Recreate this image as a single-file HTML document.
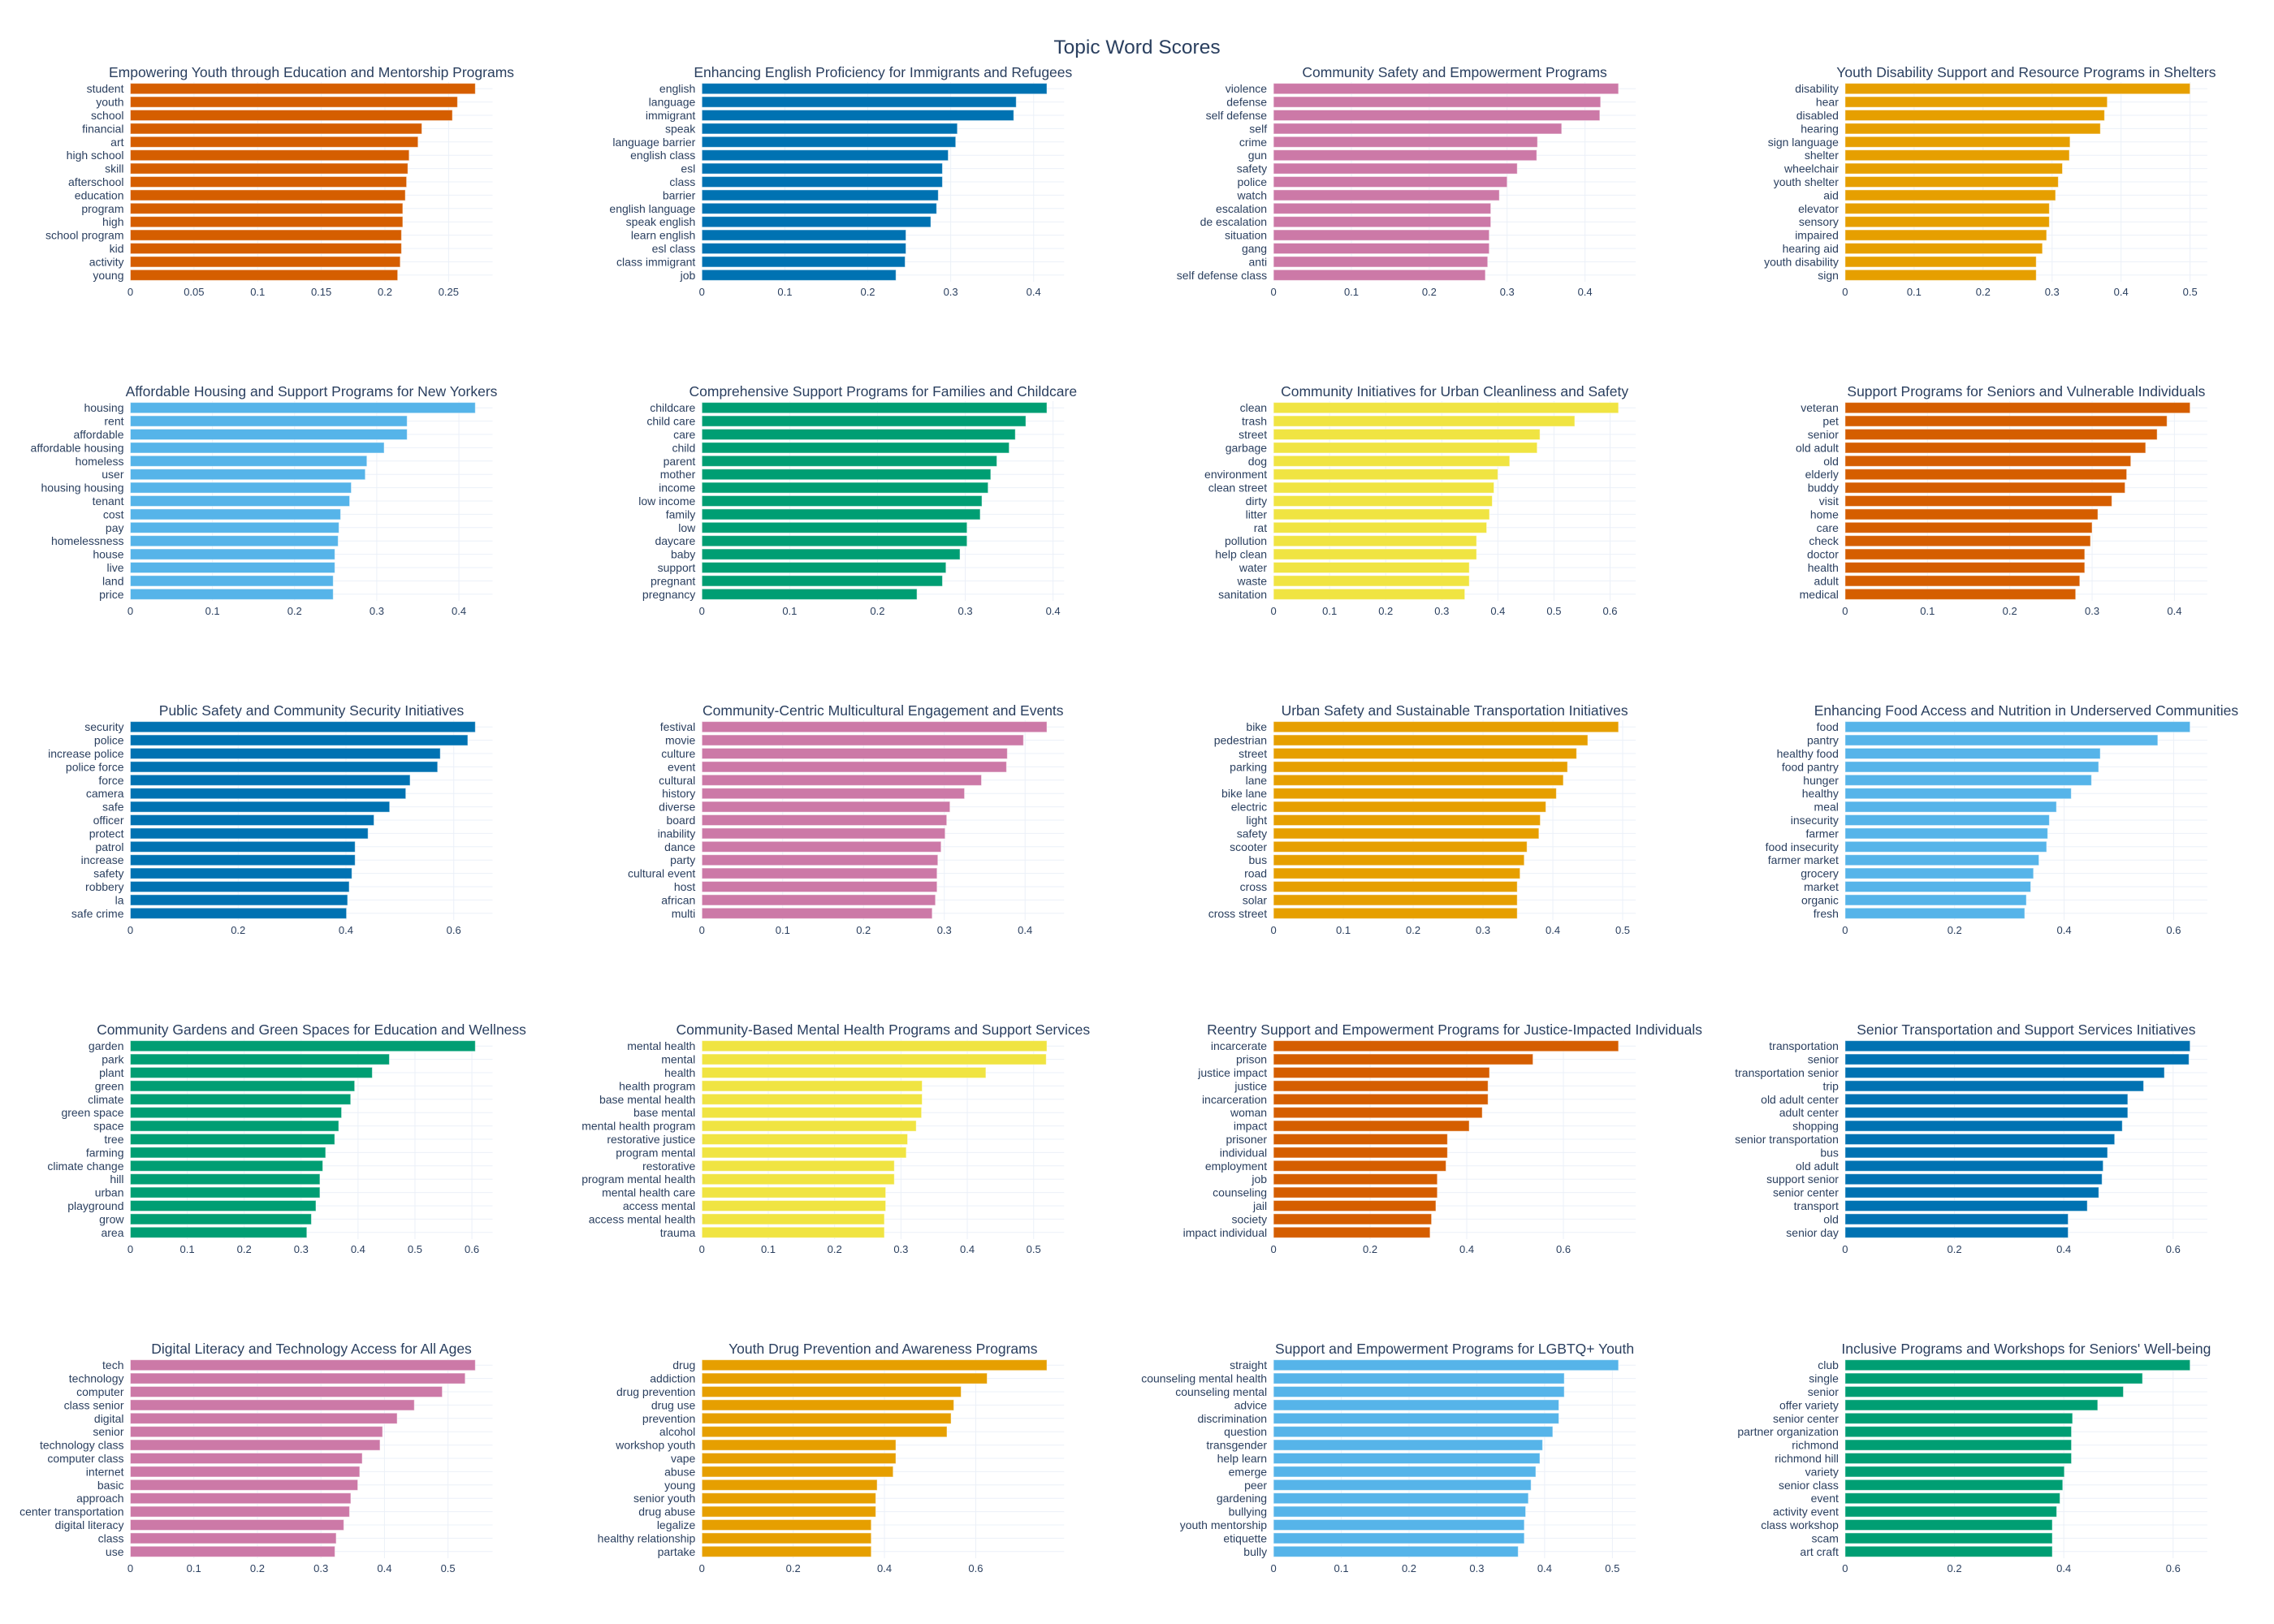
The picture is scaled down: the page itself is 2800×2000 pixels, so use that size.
<!DOCTYPE html>
<html><head><meta charset="utf-8">
<style>
html,body{margin:0;padding:0;background:#fff;}
svg{display:block;font-family:"Liberation Sans",sans-serif;}
</style></head>
<body>
<svg id="chart" width="2800" height="2000" viewBox="0 0 2800 2000" xmlns="http://www.w3.org/2000/svg">
<rect width="2800" height="2000" fill="#fff"/>
<text x="1400" y="66" text-anchor="middle" font-size="24.5" fill="#2a3f5f">Topic Word Scores</text>
</svg>
<script>
const titles = [
"Empowering Youth through Education and Mentorship Programs",
"Enhancing English Proficiency for Immigrants and Refugees",
"Community Safety and Empowerment Programs",
"Youth Disability Support and Resource Programs in Shelters",
"Affordable Housing and Support Programs for New Yorkers",
"Comprehensive Support Programs for Families and Childcare",
"Community Initiatives for Urban Cleanliness and Safety",
"Support Programs for Seniors and Vulnerable Individuals",
"Public Safety and Community Security Initiatives",
"Community-Centric Multicultural Engagement and Events",
"Urban Safety and Sustainable Transportation Initiatives",
"Enhancing Food Access and Nutrition in Underserved Communities",
"Community Gardens and Green Spaces for Education and Wellness",
"Community-Based Mental Health Programs and Support Services",
"Reentry Support and Empowerment Programs for Justice-Impacted Individuals",
"Senior Transportation and Support Services Initiatives",
"Digital Literacy and Technology Access for All Ages",
"Youth Drug Prevention and Awareness Programs",
"Support and Empowerment Programs for LGBTQ+ Youth",
"Inclusive Programs and Workshops for Seniors' Well-being"
];
const words = [
["student","youth","school","financial","art","high school","skill","afterschool","education","program","high","school program","kid","activity","young"],
["english","language","immigrant","speak","language barrier","english class","esl","class","barrier","english language","speak english","learn english","esl class","class immigrant","job"],
["violence","defense","self defense","self","crime","gun","safety","police","watch","escalation","de escalation","situation","gang","anti","self defense class"],
["disability","hear","disabled","hearing","sign language","shelter","wheelchair","youth shelter","aid","elevator","sensory","impaired","hearing aid","youth disability","sign"],
["housing","rent","affordable","affordable housing","homeless","user","housing housing","tenant","cost","pay","homelessness","house","live","land","price"],
["childcare","child care","care","child","parent","mother","income","low income","family","low","daycare","baby","support","pregnant","pregnancy"],
["clean","trash","street","garbage","dog","environment","clean street","dirty","litter","rat","pollution","help clean","water","waste","sanitation"],
["veteran","pet","senior","old adult","old","elderly","buddy","visit","home","care","check","doctor","health","adult","medical"],
["security","police","increase police","police force","force","camera","safe","officer","protect","patrol","increase","safety","robbery","la","safe crime"],
["festival","movie","culture","event","cultural","history","diverse","board","inability","dance","party","cultural event","host","african","multi"],
["bike","pedestrian","street","parking","lane","bike lane","electric","light","safety","scooter","bus","road","cross","solar","cross street"],
["food","pantry","healthy food","food pantry","hunger","healthy","meal","insecurity","farmer","food insecurity","farmer market","grocery","market","organic","fresh"],
["garden","park","plant","green","climate","green space","space","tree","farming","climate change","hill","urban","playground","grow","area"],
["mental health","mental","health","health program","base mental health","base mental","mental health program","restorative justice","program mental","restorative","program mental health","mental health care","access mental","access mental health","trauma"],
["incarcerate","prison","justice impact","justice","incarceration","woman","impact","prisoner","individual","employment","job","counseling","jail","society","impact individual"],
["transportation","senior","transportation senior","trip","old adult center","adult center","shopping","senior transportation","bus","old adult","support senior","senior center","transport","old","senior day"],
["tech","technology","computer","class senior","digital","senior","technology class","computer class","internet","basic","approach","center transportation","digital literacy","class","use"],
["drug","addiction","drug prevention","drug use","prevention","alcohol","workshop youth","vape","abuse","young","senior youth","drug abuse","legalize","healthy relationship","partake"],
["straight","counseling mental health","counseling mental","advice","discrimination","question","transgender","help learn","emerge","peer","gardening","bullying","youth mentorship","etiquette","bully"],
["club","single","senior","offer variety","senior center","partner organization","richmond","richmond hill","variety","senior class","event","activity event","class workshop","scam","art craft"]
];
const scores = [
[0.271,0.257,0.253,0.229,0.226,0.219,0.218,0.217,0.216,0.214,0.214,0.213,0.213,0.212,0.210],
[0.416,0.379,0.376,0.308,0.306,0.297,0.290,0.290,0.285,0.283,0.276,0.246,0.246,0.245,0.234],
[0.443,0.420,0.419,0.370,0.339,0.338,0.313,0.300,0.290,0.279,0.279,0.277,0.277,0.275,0.272],
[0.500,0.380,0.376,0.370,0.326,0.325,0.315,0.309,0.305,0.296,0.296,0.292,0.286,0.277,0.277],
[0.420,0.337,0.337,0.309,0.288,0.286,0.269,0.267,0.256,0.254,0.253,0.249,0.249,0.247,0.247],
[0.393,0.369,0.357,0.350,0.336,0.329,0.326,0.319,0.317,0.302,0.302,0.294,0.278,0.274,0.245],
[0.615,0.537,0.475,0.470,0.421,0.400,0.393,0.390,0.385,0.380,0.362,0.362,0.349,0.349,0.341],
[0.419,0.391,0.379,0.365,0.347,0.342,0.340,0.324,0.307,0.300,0.298,0.291,0.291,0.285,0.280],
[0.640,0.626,0.575,0.570,0.519,0.511,0.481,0.452,0.441,0.417,0.417,0.411,0.406,0.403,0.401],
[0.427,0.398,0.378,0.377,0.346,0.325,0.307,0.303,0.301,0.296,0.292,0.291,0.291,0.289,0.285],
[0.494,0.450,0.434,0.421,0.415,0.405,0.390,0.382,0.380,0.363,0.359,0.353,0.349,0.349,0.349],
[0.630,0.571,0.466,0.463,0.450,0.413,0.386,0.373,0.370,0.368,0.354,0.344,0.339,0.331,0.328],
[0.606,0.455,0.425,0.394,0.387,0.371,0.366,0.359,0.343,0.338,0.333,0.333,0.326,0.318,0.310],
[0.520,0.519,0.428,0.332,0.332,0.331,0.323,0.310,0.308,0.290,0.290,0.277,0.277,0.275,0.275],
[0.714,0.537,0.447,0.444,0.444,0.432,0.405,0.360,0.360,0.357,0.339,0.339,0.336,0.327,0.324],
[0.631,0.629,0.584,0.546,0.517,0.517,0.507,0.493,0.480,0.472,0.470,0.464,0.443,0.408,0.408],
[0.543,0.527,0.491,0.447,0.420,0.397,0.393,0.365,0.361,0.358,0.347,0.345,0.336,0.324,0.322],
[0.756,0.625,0.568,0.552,0.546,0.537,0.425,0.425,0.419,0.384,0.381,0.381,0.371,0.371,0.371],
[0.509,0.429,0.429,0.421,0.421,0.412,0.397,0.393,0.387,0.380,0.376,0.372,0.370,0.370,0.361],
[0.631,0.544,0.509,0.462,0.416,0.414,0.414,0.414,0.401,0.398,0.393,0.387,0.379,0.379,0.379]
];
const tickSteps = [0.05,0.1,0.1,0.1,0.1,0.1,0.1,0.1,0.2,0.1,0.1,0.2,0.1,0.1,0.2,0.2,0.1,0.2,0.1,0.2];
const palette = ["#D55E00","#0072B2","#CC79A7","#E69F00","#56B4E9","#009E73","#F0E442"];

const NS = "http://www.w3.org/2000/svg";
const svg = document.getElementById("chart");
function mk(tag, attrs, parent){
  const e = document.createElementNS(NS, tag);
  for (const k in attrs) e.setAttribute(k, attrs[k]);
  parent.appendChild(e);
  return e;
}
const PW = 446, PH = 246;
for (let p = 0; p < titles.length; p++) {
  const c = p % 4, r = Math.floor(p / 4);
  const L = 160.5 + 703.8 * c, T = 101 + 393 * r;
  const vals = scores[p], cats = words[p];
  const max = Math.max(...vals);
  const xmax = max * 1.05;
  const xs = v => L + v / xmax * PW;
  const band = PH / cats.length;
  const ys = i => T + i * band;
  const g = mk("g", {}, svg);
  
  
  const t = mk("text", {x: L + PW / 2, y: T - 6, "text-anchor": "middle", "font-size": 17.5, fill: "#2a3f5f"}, g);
  t.textContent = titles[p];
  
  
  const step = tickSteps[p];
  for (let k = 0; k * step <= xmax + 1e-9; k++) {
    const v = k * step, x = xs(v);
    if (k > 0) {
      const gl = mk("line", {x1: x, x2: x, y1: T, y2: T + PH, stroke: "#ebf0f8", "stroke-width": 1}, g);
      
      
    }
    const tl = mk("text", {x: x, y: T + PH + 17, "text-anchor": "middle", "font-size": 13, fill: "#2a3f5f"}, g);
    tl.textContent = String(+v.toFixed(2));
    
    
  }
  for (let i = 0; i < cats.length; i++) {
    const yc = ys(i) + band / 2;
    const hl = mk("line", {x1: L, x2: L + PW, y1: yc, y2: yc, stroke: "#ebf0f8", "stroke-width": 1}, g);
    
    
  }
  for (let i = 0; i < cats.length; i++) {
    const yc = ys(i) + band / 2, bh = band * 0.8;
    const b = mk("rect", {x: xs(0), y: yc - bh / 2, width: xs(vals[i]) - xs(0), height: bh, fill: palette[p % 7], stroke: "rgba(255,255,255,0.5)", "stroke-width": 1}, g);
    
    
    const lab = mk("text", {x: L - 8, y: yc + 5, "text-anchor": "end", "font-size": 14, fill: "#2a3f5f"}, g);
    lab.textContent = cats[i];
    
    
  }
}
</script>
</body></html>
